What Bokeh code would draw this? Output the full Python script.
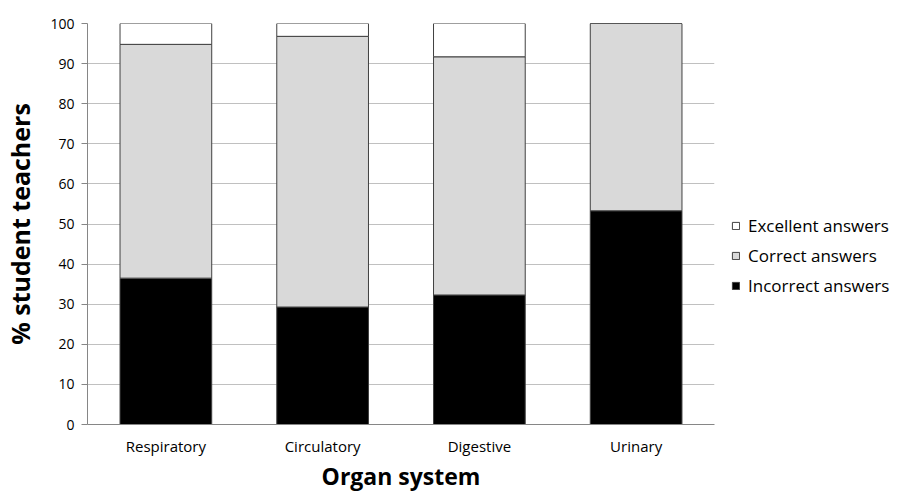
from bokeh.plotting import figure
from bokeh.models import FactorRange, Range1d, Legend, LegendItem, SingleIntervalTicker
from bokeh.embed import file_html
from bokeh.resources import INLINE

organs = ["Respiratory", "Circulatory", "Digestive", "Urinary"]
incorrect = [36.5, 29.3, 32.3, 53.3]
correct = [58.3, 67.5, 59.4, 46.7]
excellent = [5.2, 3.2, 8.3, 0.0]
series = ["incorrect", "correct", "excellent"]
labels = ["Incorrect answers", "Correct answers", "Excellent answers"]
colors = ["#000000", "#d9d9d9", "#ffffff"]

FONT = "Open Sans"

p = figure(x_range=FactorRange(*organs, range_padding=0.0), y_range=Range1d(0, 100),
           frame_width=627, frame_height=401, output_backend="svg", toolbar_location=None,
           min_border_left=86, min_border_top=23, min_border_bottom=50, min_border_right=0)
p.outline_line_color = None

data = {"organs": organs, "incorrect": incorrect, "correct": correct, "excellent": excellent}
renderers = p.vbar_stack(series, x="organs", width=0.585, source=data,
                         fill_color=colors, line_color="#404040", line_width=1)

p.xgrid.grid_line_color = None
p.ygrid.grid_line_color = "#c0c0c0"
p.ygrid.grid_line_width = 1
p.yaxis.ticker = SingleIntervalTicker(interval=10)
p.yaxis.minor_tick_line_color = None
p.yaxis.major_tick_out = 6
p.yaxis.major_tick_in = 0
p.yaxis.major_tick_line_color = "#868686"
p.yaxis.axis_line_color = "#868686"
p.xaxis.axis_line_color = "#868686"
p.xaxis.major_tick_line_color = None
p.xaxis.major_tick_out = 0
p.xaxis.major_label_standoff = 11
p.yaxis.major_label_standoff = 7

for ax in (p.xaxis[0], p.yaxis[0]):
    ax.major_label_text_font = FONT
    ax.major_label_text_color = "#000000"
    ax.axis_label_text_font = FONT
    ax.axis_label_text_font_style = "bold"
    ax.axis_label_text_color = "#000000"
p.xaxis.major_label_text_font_size = "15px"
p.yaxis.major_label_text_font_size = "14px"
p.xaxis.axis_label_text_font_size = "23px"
p.yaxis.axis_label_text_font_size = "25px"

p.xaxis.axis_label = "Organ system"
p.yaxis.axis_label = "% student teachers"
p.xaxis.axis_label_standoff = 1
p.yaxis.axis_label_standoff = 10

items = [LegendItem(label=labels[i], renderers=[renderers[i]]) for i in (2, 1, 0)]
legend = Legend(items=items, location=(17, 127), padding=0, margin=0,
                border_line_color=None, background_fill_alpha=0,
                glyph_width=9, glyph_height=9, label_height=20, spacing=7,
                label_standoff=8, label_text_font=FONT, label_text_font_size="17px",
                label_text_color="#000000")
p.add_layout(legend, "right")

open("out.html", "w").write(file_html(p, INLINE))
